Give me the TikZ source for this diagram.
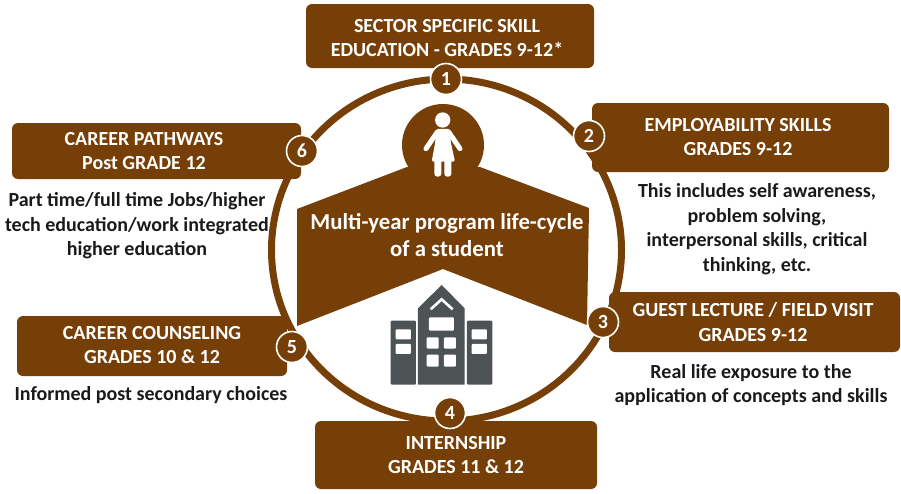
\documentclass[tikz,border=0pt]{standalone}
\usepackage{fontspec}
\setmainfont{Carlito}[BoldFont={Carlito Bold}]
\definecolor{brn}{HTML}{763F08}
\definecolor{bldg}{HTML}{4D5254}
\definecolor{ink}{HTML}{1A1A1A}
\tikzset{x=1pt,y=-1pt,
 boxtxt/.style={text=white,font=\fontsize{20}{24.5}\selectfont\bfseries,align=center,inner sep=0pt},
 note/.style={text=ink,font=\fontsize{20}{24.5}\selectfont\bfseries,align=center,inner sep=0pt},
 numdot/.style={circle,fill=brn,draw=white,line width=1.6pt,minimum size=31pt,inner sep=0pt,text=white,font=\fontsize{20}{20}\selectfont\bfseries},
 panel/.style={fill=brn,rounded corners=6pt,draw=none}}
\begin{document}
\begin{tikzpicture}
\useasboundingbox (0,0) rectangle (901,493);
% ring
\draw[brn,line width=7pt] (446.5,250) ellipse [x radius=175,y radius=171];
% centre
\fill[brn] (297,209) -- (407,167) -- (480,167) -- (589,208) -- (587,325) -- (443,269) -- (297,326) -- cycle;
\fill[brn] (443,145) circle (41);
\node[text=white,font=\fontsize{22.8}{27}\selectfont\bfseries,align=center,inner sep=0pt] (title) at (447,235) {Multi-year program life-cycle\\of a student};
% person
\begin{scope}[shift={(390,60)},x=0.3333pt,y=-0.3333pt]
\fill[white] (158,180) circle (23);
\draw[white,line width=5pt,line cap=round,line join=round] (142,216) -- (108,266);
\draw[white,line width=5pt,line cap=round,line join=round] (176,216) -- (210,266);
\fill[white,rounded corners=2pt] (138,207) -- (180,207) -- (182,245) -- (195,305) -- (125,305) -- (136,245) -- cycle;
\fill[white,rounded corners=3pt] (133,295) rectangle (154,350);
\fill[white,rounded corners=3pt] (163,295) rectangle (184,350);
\end{scope}
% building
\begin{scope}[shift={(280,90)},x=0.3333pt,y=-0.3333pt]
\fill[bldg,rounded corners=1pt] (332,692) rectangle (408,884);
\fill[bldg,rounded corners=1pt] (561,692) rectangle (637,884);
\fill[bldg] (414,884) -- (414,655) -- (485,585) -- (554,655) -- (554,884) -- cycle;
\draw[white,line width=2.6pt] (452,658) -- (485,628) -- (518,658);
\fill[white,rounded corners=1pt] (447,682) rectangle (522,722);
\foreach \a/\b/\c/\d in {440/742/476/776,492/742/528/776,440/794/476/830,492/794/528/830,347/718/393/748,347/762/393/792,575/718/621/748,575/762/621/792}
 \fill[white,rounded corners=1pt] (\a,\b) rectangle (\c,\d);
\end{scope}
% panels
\fill[panel] (306,4) rectangle (594,68);
\fill[panel] (592,103) rectangle (889,172);
\fill[panel] (609,292) rectangle (900,352);
\fill[panel] (315,421) rectangle (597,489);
\fill[panel] (17,316) rectangle (287,376);
\fill[panel] (12,123) rectangle (301,179);
\node[boxtxt] (t1) at (447,38) {SECTOR SPECIFIC SKILL\\EDUCATION - GRADES 9-12*};
\node[boxtxt] (t2) at (738,137) {EMPLOYABILITY SKILLS\\GRADES 9-12};
\node[boxtxt] (t3) at (753,322) {GUEST LECTURE / FIELD VISIT\\GRADES 9-12};
\node[boxtxt] (t4) at (456,455) {INTERNSHIP\\GRADES 11 \& 12};
\node[boxtxt] (t5) at (152,345) {CAREER COUNSELING\\GRADES 10 \& 12};
\node[boxtxt] (t6) at (144,151) {CAREER PATHWAYS\\Post GRADE 12};
% notes
\node[note] (n2) at (757,229) {This includes self awareness,\\problem solving,\\interpersonal skills, critical\\thinking, etc.};
\node[note] (n3) at (751,385) {Real life exposure to the\\application of concepts and skills};
\node[note] (n5) at (151,395) {Informed post secondary choices};
\node[note] (n6) at (137,226) {Part time/full time Jobs/higher\\tech education/work integrated\\higher education};
% numbers
\node[numdot] (c1) at (446,79) {1};
\node[numdot] (c2) at (589,136) {2};
\node[numdot] (c3) at (603,322) {3};
\node[numdot] (c4) at (450,413) {4};
\node[numdot] (c5) at (292,347) {5};
\node[numdot] (c6) at (302,151) {6};
\end{tikzpicture}
\end{document}
